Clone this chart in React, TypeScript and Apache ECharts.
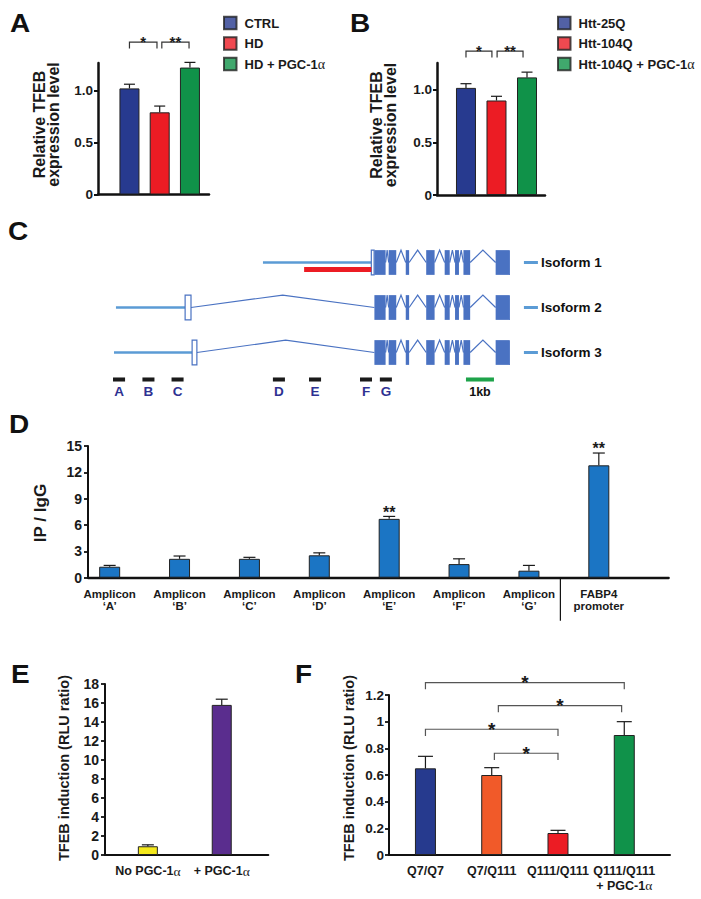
import React, { useEffect, useRef } from "react";
import * as echarts from "echarts";

const FONT = '"Liberation Sans", Arial, Helvetica, sans-serif';
const SERIF = '"Liberation Serif", "DejaVu Serif", serif';
const INK = "#1a1a1a";

// ---------- Panel A
const catsA = ["CTRL", "HD", "HD + PGC-1α"];
const valsA = [1.02, 0.79, 1.22];
const errA = [0.04, 0.06, 0.05];
const colorsA = ["#273a8f", "#ec1c24", "#109249"];
const sigA = [
  [0, 0.91, 1.464],
  [1.07, 1.97, 1.464],
];
const sigLabelsA = ["*", "**"];
const ticksAB = [0, 0.5, 1.0];

// ---------- Panel B
const catsB = ["Htt-25Q", "Htt-104Q", "Htt-104Q + PGC-1α"];
const valsB = [1.02, 0.9, 1.12];
const errB = [0.04, 0.04, 0.05];
const colorsB = ["#273a8f", "#ec1c24", "#109249"];
const sigB = [
  [0, 0.85, 1.371],
  [1.02, 1.87, 1.371],
];
const sigLabelsB = ["*", "**"];

// ---------- Panel C (genomic positions in kb)
const isoNames = ["Isoform 1", "Isoform 2", "Isoform 3"];
const isoUtr = [
  [5.82, 9.69],
  [0.57, 3.04],
  [0.5, 3.29],
];
const isoFirstExon = [
  [9.69, 9.79],
  [3.04, 3.25],
  [3.29, 3.46],
];
const exonsKb = [
  [9.8, 10.2],
  [10.31, 10.58],
  [10.92, 11.04],
  [11.65, 11.95],
  [12.31, 12.49],
  [12.68, 12.82],
  [12.98, 13.22],
  [14.13, 14.64],
];
const probeKb = [7.29, 9.69];
const ampliconNames = ["A", "B", "C", "D", "E", "F", "G"];
const ampliconKb = [0.68, 1.73, 2.77, 6.39, 7.68, 9.5, 10.21];
const scaleBarKb = [13.07, 14.07];
const scaleBarLabel = "1kb";

// ---------- Panel D
const catsD = [
  "Amplicon\n‘A’",
  "Amplicon\n‘B’",
  "Amplicon\n‘C’",
  "Amplicon\n‘D’",
  "Amplicon\n‘E’",
  "Amplicon\n‘F’",
  "Amplicon\n‘G’",
  "FABP4\npromoter",
];
const valsD = [1.25, 2.15, 2.15, 2.55, 6.7, 1.55, 0.8, 12.8];
const errD = [0.15, 0.32, 0.17, 0.28, 0.28, 0.6, 0.6, 1.4];
const sigD = ["", "", "", "", "**", "", "", "**"];
const separatorD = [6.45];

// ---------- Panel E
const catsE = ["No PGC-1α", "+ PGC-1α"];
const valsE = [0.92, 15.8];
const errE = [0.15, 0.6];
const colorsE = ["#f4e81c", "#5a2d8e"];

// ---------- Panel F
const catsF = ["Q7/Q7", "Q7/Q111", "Q111/Q111", "Q111/Q111\n+ PGC-1α"];
const valsF = [0.65, 0.6, 0.165, 0.9];
const errF = [0.09, 0.055, 0.02, 0.1];
const colorsF = ["#263a8e", "#f15a29", "#ec1c24", "#10924a"];
const sigF = [
  [0, 3, 1.293],
  [1.1, 2.96, 1.12],
  [0, 2, 0.943],
  [1.04, 2, 0.763],
];
const sigLabelsF = ["*", "*", "*", "*"];

const EXON = "#4a72c2";
const UTR = "#5b9bd5";

const alpha = (s: string) => s.replace("α", "{a|α}");
const richA = (size: number) => ({
  a: { fontFamily: SERIF, fontSize: size + 1, fontWeight: "normal", color: INK },
});

function barSeries(idx: number, vals: number[], colors: string[], width: number) {
  return {
    type: "bar",
    xAxisIndex: idx,
    yAxisIndex: idx,
    barWidth: width,
    silent: true,
    z: 2,
    itemStyle: { borderColor: "#222", borderWidth: 1 },
    data: vals.map((v, i) => ({ value: [i, v], itemStyle: { color: colors[i % colors.length] } })),
  };
}

function errSeries(
  idx: number,
  vals: number[],
  errs: number[],
  capW: number,
  stars?: string[],
  starSize = 16
) {
  return {
    type: "custom",
    xAxisIndex: idx,
    yAxisIndex: idx,
    z: 3,
    silent: true,
    clip: false,
    data: vals.map((v, i) => [i, v, errs[i]]),
    renderItem: (params: any, api: any) => {
      const i = params.dataIndex;
      const x = api.value(0);
      const v = api.value(1);
      const e = api.value(2);
      const p0 = api.coord([x, v]);
      const p1 = api.coord([x, v + e]);
      const ls = { stroke: INK, lineWidth: 1.2, fill: "none" };
      const ch: any[] = [
        { type: "line", shape: { x1: p0[0], y1: p0[1], x2: p1[0], y2: p1[1] }, style: ls },
        {
          type: "line",
          shape: { x1: p1[0] - capW / 2, y1: p1[1], x2: p1[0] + capW / 2, y2: p1[1] },
          style: ls,
        },
      ];
      if (stars && stars[i]) {
        ch.push({
          type: "text",
          x: p1[0],
          y: p1[1] - 8 + 0.23 * starSize,
          style: {
            text: stars[i],
            textAlign: "center",
            textVerticalAlign: "middle",
            font: `bold ${starSize}px ${FONT}`,
            fill: INK,
          },
        });
      }
      return { type: "group", children: ch };
    },
  };
}

function bracketSeries(
  idx: number,
  brackets: number[][],
  labels: string[],
  drop: number,
  size: number,
  color: string,
  gap: number
) {
  return {
    type: "custom",
    xAxisIndex: idx,
    yAxisIndex: idx,
    z: 4,
    silent: true,
    clip: false,
    data: brackets,
    renderItem: (params: any, api: any) => {
      const i = params.dataIndex;
      const a = api.coord([api.value(0), api.value(2)]);
      const b = api.coord([api.value(1), api.value(2)]);
      return {
        type: "group",
        children: [
          {
            type: "polyline",
            shape: {
              points: [
                [a[0], a[1] + drop],
                [a[0], a[1]],
                [b[0], b[1]],
                [b[0], b[1] + drop],
              ],
            },
            style: { stroke: color, lineWidth: 1.2, fill: "none" },
          },
          {
            type: "text",
            x: (a[0] + b[0]) / 2,
            y: a[1] - gap + 0.23 * size,
            style: {
              text: labels[i],
              textAlign: "center",
              textVerticalAlign: "middle",
              font: `bold ${size}px ${FONT}`,
              fill: INK,
            },
          },
        ],
      };
    },
  };
}

function legendSeries(idx: number, names: string[], colors: string[]) {
  return names.map((n, i) => ({
    type: "scatter",
    name: n,
    xAxisIndex: idx,
    yAxisIndex: idx,
    data: [],
    itemStyle: { color: colors[i], borderColor: "#222", borderWidth: 1 },
  }));
}

const axisLine = (w: number) => ({
  show: true,
  onZero: false,
  lineStyle: { color: "#111", width: w },
});
const tickLabel = (size: number, margin: number) => ({
  fontFamily: FONT,
  fontWeight: "bold",
  fontSize: size,
  color: INK,
  margin,
});

function valueX(idx: number, min: number, max: number, labels?: string[], size = 12, lh = 14, margin = 9) {
  const base: any = {
    gridIndex: idx,
    type: "value",
    min,
    max,
    axisLine: axisLine(2),
    axisTick: { show: false },
    splitLine: { show: false },
    axisLabel: { show: false },
  };
  if (labels) {
    base.axisLabel = {
      show: true,
      customValues: labels.map((_, i) => i),
      formatter: (v: number) => alpha(labels[Math.round(v)] || ""),
      ...tickLabel(size, margin),
      lineHeight: lh,
      rich: richA(size),
    };
  }
  return base;
}

function panelCRender(params: any, api: any) {
  const ch: any[] = [];
  const H = 0.275;
  const rect = (x0: number, x1: number, y0: number, y1: number, style: any) => {
    const p = api.coord([x0, y0]);
    const q = api.coord([x1, y1]);
    return {
      type: "rect",
      shape: {
        x: Math.min(p[0], q[0]),
        y: Math.min(p[1], q[1]),
        width: Math.abs(q[0] - p[0]),
        height: Math.abs(q[1] - p[1]),
      },
      style,
    };
  };
  const line = (pts: number[][], style: any) => ({
    type: "polyline",
    shape: { points: pts.map((p) => api.coord(p)) },
    style: { fill: "none", ...style },
  });
  isoNames.forEach((name, r) => {
    const u = isoUtr[r];
    const f = isoFirstExon[r];
    ch.push(line([[u[0], r], [u[1], r]], { stroke: UTR, lineWidth: 2.5 }));
    if (f[1] < exonsKb[0][0] - 0.1) {
      const s = f[1];
      const e = exonsKb[0][0];
      ch.push(line([[s, r], [(s + e) / 2, r - H], [e, r]], { stroke: EXON, lineWidth: 1.2 }));
    }
    for (let k = 0; k < exonsKb.length - 1; k++) {
      const s = exonsKb[k][1];
      const e = exonsKb[k + 1][0];
      ch.push(line([[s, r], [(s + e) / 2, r - H], [e, r]], { stroke: EXON, lineWidth: 1.2 }));
    }
    exonsKb.forEach((ex) => ch.push(rect(ex[0], ex[1], r - H, r + H, { fill: EXON })));
    ch.push(rect(f[0], f[1], r - H, r + H, { fill: "#fff", stroke: EXON, lineWidth: 1.2 }));
    ch.push(line([[15.14, r], [15.64, r]], { stroke: UTR, lineWidth: 3 }));
    const t = api.coord([15.75, r]);
    ch.push({
      type: "text",
      x: t[0],
      y: t[1],
      style: {
        text: name,
        textAlign: "left",
        textVerticalAlign: "middle",
        font: `bold 13.5px ${FONT}`,
        fill: "#111",
      },
    });
  });
  // red probe under isoform 1
  ch.push(rect(probeKb[0], probeKb[1], 0.1, 0.21, { fill: "#ec1c24" }));
  // amplicons
  const row = 2.6;
  ampliconKb.forEach((c, i) => {
    ch.push(rect(c - 0.215, c + 0.215, row - 0.045, row + 0.045, { fill: "#1a1a1a" }));
    const t = api.coord([c, row + 0.27]);
    ch.push({
      type: "text",
      x: t[0],
      y: t[1],
      style: {
        text: ampliconNames[i],
        textAlign: "center",
        textVerticalAlign: "middle",
        font: `bold 13.5px ${FONT}`,
        fill: "#2e3192",
      },
    });
  });
  ch.push(rect(scaleBarKb[0], scaleBarKb[1], row - 0.045, row + 0.045, { fill: "#1ea34a" }));
  const sc = api.coord([(scaleBarKb[0] + scaleBarKb[1]) / 2, row + 0.27]);
  ch.push({
    type: "text",
    x: sc[0],
    y: sc[1],
    style: {
      text: scaleBarLabel,
      textAlign: "center",
      textVerticalAlign: "middle",
      font: `bold 12.5px ${FONT}`,
      fill: "#111",
    },
  });
  return { type: "group", children: ch };
}

function buildOption() {
  const letter = (t: string, x: number, y: number) => ({
    type: "text",
    x,
    y,
    scaleX: 1.12,
    style: {
      text: t,
      font: `bold 25px ${FONT}`,
      fill: "#111",
      textAlign: "left",
      textVerticalAlign: "middle",
    },
  });
  const ytitle = (t: string, x: number, y: number, size: number, lh: number) => ({
    type: "text",
    x,
    y,
    rotation: Math.PI / 2,
    style: {
      text: t,
      font: `bold ${size}px ${FONT}`,
      lineHeight: lh,
      fill: INK,
      textAlign: "center",
      textVerticalAlign: "middle",
    },
  });

  const yAB = (idx: number, max: number) => ({
    gridIndex: idx,
    type: "value",
    min: 0,
    max,
    axisLine: axisLine(2.5),
    axisTick: {
      show: true,
      length: 4,
      customValues: ticksAB,
      lineStyle: { color: "#111", width: 2 },
    },
    axisLabel: {
      customValues: ticksAB,
      formatter: (v: number) => (v === 0 ? "0" : v.toFixed(1)),
      ...tickLabel(13.5, 5),
    },
    splitLine: { show: false },
  });
  const yStd = (idx: number, max: number, interval: number, margin: number, size: number) => ({
    gridIndex: idx,
    type: "value",
    min: 0,
    max,
    interval,
    axisLine: axisLine(2),
    axisTick: { show: true, length: 4, lineStyle: { color: "#111", width: 1.8 } },
    axisLabel: { ...tickLabel(size, margin) },
    splitLine: { show: false },
  });

  const legendCfg = (names: string[], left: number) => ({
    data: names,
    orient: "vertical",
    left,
    top: 15.75,
    padding: 0,
    itemWidth: 12.5,
    itemHeight: 12.5,
    itemGap: 6,
    icon: "rect",
    selectedMode: false,
    formatter: (n: string) => alpha(n),
    textStyle: {
      fontFamily: FONT,
      fontWeight: "bold",
      fontSize: 13,
      color: INK,
      lineHeight: 12.5,
      padding: [0, 0, 0, 3],
      rich: richA(13),
    },
  });

  const xA = valueX(0, -1.04, 2.63);
  xA.axisLine = axisLine(2.5);
  const xB = valueX(1, -0.95, 2.59);
  xB.axisLine = axisLine(2.5);
  const xD = valueX(3, -0.31, 8, catsD, 11.5, 12, 10);
  xD.axisLine = axisLine(2.3);

  return {
    animation: false,
    backgroundColor: "#ffffff",
    textStyle: { fontFamily: FONT },
    grid: [
      { left: 98, top: 63, width: 111, height: 131.5, containLabel: false, outerBoundsMode: "none" },
      { left: 437, top: 63, width: 108, height: 132, containLabel: false, outerBoundsMode: "none" },
      { left: 100, top: 240, width: 504, height: 157.5, containLabel: false, outerBoundsMode: "none" },
      { left: 88, top: 446, width: 580.7, height: 131.7, containLabel: false, outerBoundsMode: "none" },
      { left: 105, top: 684, width: 163.3, height: 171, containLabel: false, outerBoundsMode: "none" },
      { left: 389, top: 695, width: 281, height: 160, containLabel: false, outerBoundsMode: "none" },
    ],
    xAxis: [
      xA,
      xB,
      { gridIndex: 2, type: "value", min: 0, max: 18, show: false },
      xD,
      valueX(4, -0.58, 1.63, catsE, 12.5, 14.5, 9),
      valueX(5, -0.55, 3.69, catsF, 12.5, 14.5, 9),
    ],
    yAxis: [
      yAB(0, 1.264),
      yAB(1, 1.257),
      { gridIndex: 2, type: "value", min: -0.5, max: 3, inverse: true, show: false },
      yStd(3, 15, 3, 6, 14),
      yStd(4, 18, 2, 6, 14),
      yStd(5, 1.2, 0.2, 5, 13.5),
    ],
    legend: [legendCfg(catsA, 223), legendCfg(catsB, 557)],
    graphic: [
      letter("A", 10, 23.5),
      letter("B", 350, 23.5),
      letter("C", 8, 232),
      letter("D", 9, 424.5),
      letter("E", 11, 675),
      letter("F", 295, 675),
      ytitle("Relative TFEB\nexpression level", 46.5, 124.5, 16, 14.5),
      ytitle("Relative TFEB\nexpression level", 383.5, 125, 16, 14.5),
      ytitle("IP / IgG", 40.5, 513, 17, 17),
      ytitle("TFEB induction (RLU ratio)", 63.5, 768, 14.5, 15),
      ytitle("TFEB induction (RLU ratio)", 349, 768, 14.5, 15),
    ],
    series: [
      barSeries(0, valsA, colorsA, 20),
      errSeries(0, valsA, errA, 11),
      bracketSeries(0, sigA, sigLabelsA, 6.3, 15, "#333", 3.9),
      ...legendSeries(0, catsA, colorsA),

      barSeries(1, valsB, colorsB, 20),
      errSeries(1, valsB, errB, 11),
      bracketSeries(1, sigB, sigLabelsB, 6.5, 15, "#333", 4),
      ...legendSeries(1, catsB, colorsB),

      {
        type: "custom",
        xAxisIndex: 2,
        yAxisIndex: 2,
        silent: true,
        clip: false,
        data: [[0, 0]],
        renderItem: panelCRender,
      },

      barSeries(3, valsD, ["#1b75c4"], 21),
      errSeries(3, valsD, errD, 12, sigD, 16),
      {
        type: "custom",
        xAxisIndex: 3,
        yAxisIndex: 3,
        silent: true,
        clip: false,
        data: separatorD.map((x) => [x, 0]),
        renderItem: (params: any, api: any) => {
          const p = api.coord([api.value(0), api.value(1)]);
          return {
            type: "line",
            shape: { x1: p[0], y1: p[1], x2: p[0], y2: p[1] + 43 },
            style: { stroke: "#111", lineWidth: 1.2 },
          };
        },
      },

      barSeries(4, valsE, colorsE, 20),
      errSeries(4, valsE, errE, 12),

      barSeries(5, valsF, colorsF, 21),
      errSeries(5, valsF, errF, 15),
      bracketSeries(5, sigF, sigLabelsF, 6.7, 19, "#555", 4.4),
    ],
  };
}

export default function App() {
  const ref = useRef<HTMLDivElement>(null);
  useEffect(() => {
    if (!ref.current) return;
    const chart = echarts.init(ref.current, undefined, { renderer: "svg" });
    chart.setOption(buildOption() as any);
    return () => chart.dispose();
  }, []);
  return (
    <div
      ref={ref}
      style={{ position: "absolute", left: 0, top: 0, width: 701, height: 899, background: "#fff" }}
    />
  );
}
